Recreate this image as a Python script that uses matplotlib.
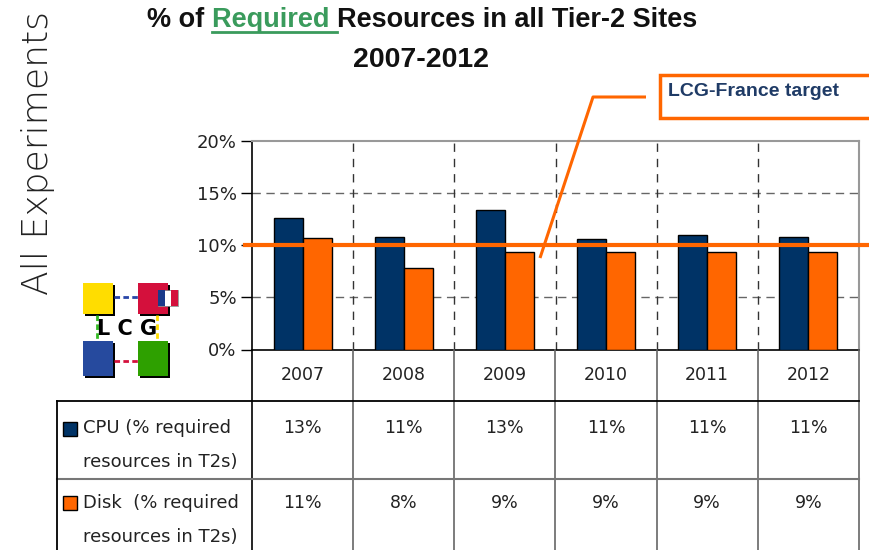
import numpy as np
import matplotlib
matplotlib.use("Agg")
import matplotlib.pyplot as plt
from matplotlib.patches import Rectangle
from matplotlib.lines import Line2D

# ---------------- data ----------------
years = ["2007", "2008", "2009", "2010", "2011", "2012"]
cpu = [12.6, 10.8, 13.4, 10.6, 11.0, 10.8]     # % required resources in T2s
disk = [10.7, 7.8, 9.4, 9.4, 9.4, 9.4]
target = 10.0
yticks = [0, 5, 10, 15, 20]
cpu_label = ["CPU (% required", "resources in T2s)"]
disk_label = ["Disk  (% required", "resources in T2s)"]
title_parts = ["% of ", "Required ", "Resources in all Tier-2 Sites"]
subtitle = "2007-2012"
side_title = "All Experiments"
callout = "LCG-France target"

NAVY = "#003366"
ORANGE = "#ff6600"
GREEN = "#3a9b5c"

plt.rcParams['font.family'] = ['DejaVu Sans']

W, H = 870, 550
fig = plt.figure(figsize=(W / 100, H / 100), dpi=100)

# chart area in pixels
L, R, T, B = 252, 859, 141, 349.5
ax = fig.add_axes([L / W, 1 - B / H, (R - L) / W, (B - T) / H])
n = len(years)
ax.set_xlim(0, n)
ax.set_ylim(0, 20)
ax.set_yticks(yticks)
ax.set_yticklabels([f"{v}%" for v in yticks], fontsize=13, color="#222")
ax.set_xticks([])
ax.tick_params(axis="y", length=8, width=1, direction="out", pad=3)
for s in ["top", "right"]:
    ax.spines[s].set_color("#999999")
    ax.spines[s].set_linewidth(1.5)
ax.spines["left"].set_color("black")
ax.spines["left"].set_linewidth(1.2)
ax.spines["bottom"].set_color("black")
ax.spines["bottom"].set_linewidth(1.2)

for v in yticks[1:-1]:
    ax.axhline(v, color="#666666", ls=(0, (6, 4)), lw=1, zorder=1)
for i in range(1, n):
    ax.axvline(i, color="#333333", ls=(0, (6, 5)), lw=1, zorder=1)

w = 0.287
x = np.arange(n) + 0.5
ax.bar(x - w / 2, cpu, w, color=NAVY, edgecolor="black", lw=1, zorder=3)
ax.bar(x + w / 2, disk, w, color=ORANGE, edgecolor="black", lw=1, zorder=3)

# target line, extending beyond the chart
ax.plot([(245 - L) / (R - L), (875 - L) / (R - L)], [target, target],
        transform=ax.get_yaxis_transform(), color=ORANGE, lw=3, clip_on=False, zorder=5)

# ---------------- overlay in pixel coordinates ----------------
ov = fig.add_axes([0, 0, 1, 1], zorder=10)
ov.set_xlim(0, W)
ov.set_ylim(H, 0)
ov.axis("off")

# table
xs = L + np.arange(n + 1) * (R - L) / n
for i, xv in enumerate(xs):
    col = "black" if i == 0 else "#666666"
    ov.add_line(Line2D([xv, xv], [B, H], color=col, lw=1.2))
ov.add_line(Line2D([57, R], [401, 401], color="black", lw=1.3))
ov.add_line(Line2D([57, R], [479, 479], color="#777777", lw=1.5))
ov.add_line(Line2D([57, 57], [401, H], color="black", lw=1.3))

centers = (xs[:-1] + xs[1:]) / 2
for cx, yr, c, d in zip(centers, years, cpu, disk):
    ov.text(cx, 375, yr, ha="center", va="center", fontsize=12.5, color="#222")
    ov.text(cx, 428, f"{int(c + 0.5)}%", ha="center", va="center", fontsize=12.5, color="#222")
    ov.text(cx, 503, f"{int(d + 0.5)}%", ha="center", va="center", fontsize=12.5, color="#222")

ov.add_patch(Rectangle((63, 422), 14, 14, facecolor=NAVY, edgecolor="black", lw=1))
ov.text(83, 428, cpu_label[0], ha="left", va="center", fontsize=13, color="#222")
ov.text(83, 462, cpu_label[1], ha="left", va="center", fontsize=13, color="#222")
ov.add_patch(Rectangle((63, 496), 14, 14, facecolor=ORANGE, edgecolor="black", lw=1))
ov.text(83, 503, disk_label[0], ha="left", va="center", fontsize=13, color="#222")
ov.text(83, 537, disk_label[1], ha="left", va="center", fontsize=13, color="#222")

TF = ["Liberation Sans", "DejaVu Sans"]

# callout
ov.add_patch(Rectangle((660, 75), 220, 43, facecolor="white", edgecolor=ORANGE, lw=2.5, clip_on=False))
ov.text(668, 92, callout, ha="left", va="center", fontsize=14, fontweight="bold",
        family=TF, color="#1f3b66")
ov.add_line(Line2D([646, 593, 540], [97, 97, 258], color=ORANGE, lw=2.2, solid_capstyle="butt"))

# side title
ov.text(38, 153, side_title, rotation=90, ha="center", va="center", fontsize=26,
        fontweight="light", color="#222")

# title with coloured word
fig.canvas.draw()
rend = fig.canvas.get_renderer()
inv = ov.transData.inverted()
cx0 = 147
for k, part in enumerate(title_parts):
    t = ov.text(cx0, 27, part, ha="left", va="baseline", fontsize=19.5, fontweight="bold",
                family=TF, color=GREEN if k == 1 else "#111")
    bb = t.get_window_extent(rend)
    (x0, _), (x1, _) = inv.transform([[bb.x0, bb.y0], [bb.x1, bb.y1]])
    if k == 1:
        ov.add_line(Line2D([x0, x1], [32, 32], color=GREEN, lw=2))
    cx0 = x1
ov.text(421, 67, subtitle, ha="center", va="baseline", fontsize=20.5, fontweight="bold",
        family=TF, color="#111")

# LCG logo
def sq(x0, y0, w_, h_, c):
    ov.add_patch(Rectangle((x0 + 2, y0 + 2), w_, h_, facecolor="black", lw=0))
    ov.add_patch(Rectangle((x0, y0), w_, h_, facecolor=c, lw=0))

sq(83, 283, 30, 31, "#ffdd00")
sq(138, 283, 30, 31, "#d4103c")
sq(83, 341, 30, 35, "#264a9e")
sq(138, 341, 30, 35, "#2ea000")
ov.add_line(Line2D([114, 138], [297, 297], color="#2845a8", lw=2, ls=(0, (2, 1.2))))
ov.add_line(Line2D([114, 138], [361, 361], color="#d4103c", lw=2, ls=(0, (2, 1.2))))
ov.add_line(Line2D([97, 97], [315, 341], color="#33bb22", lw=2, ls=(0, (2, 1.2))))
ov.add_line(Line2D([157, 157], [315, 341], color="#ffdd00", lw=2, ls=(0, (2, 1.2))))
ov.add_patch(Rectangle((158, 290), 20, 16, facecolor="white", edgecolor="#777", lw=0.5))
ov.add_patch(Rectangle((158, 290), 7, 16, facecolor="#1a3a8a", lw=0))
ov.add_patch(Rectangle((171, 290), 7, 16, facecolor="#d4103c", lw=0))
ov.text(127, 329, "L C G", ha="center", va="center", fontsize=15, fontweight="bold", color="black")

fig.savefig("out.png", dpi=100)
